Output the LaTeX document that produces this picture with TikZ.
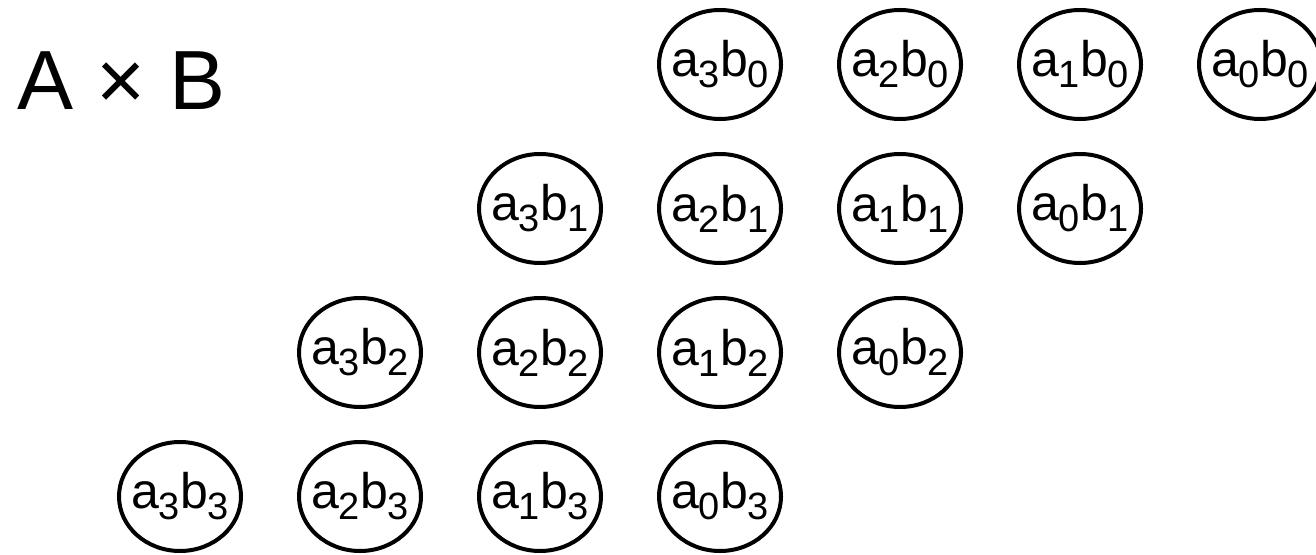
\documentclass[tikz,border=0pt]{standalone}
\usepackage{fontspec}
\setmainfont{Liberation Sans}
\usetikzlibrary{shapes.geometric}
\newcommand{\idx}[1]{\raisebox{-5.5pt}{\fontsize{19}{20}\selectfont #1}}
\tikzset{term/.style={ellipse, draw, line width=2pt, minimum width=61pt, minimum height=54.5pt,
    inner xsep=-5pt, inner ysep=0pt, font=\fontsize{25}{30}\selectfont}}

\begin{document}
\begin{tikzpicture}[x=0.5pt, y=-0.5pt]
    \useasboundingbox (0,0) rectangle (1316,555);
    % Title
    \node[anchor=base west, inner sep=0pt, font=\fontsize{42}{50}\selectfont] (title) at (17,110) {A × B};
    % Partial products, each row shifted one column to the left
    \foreach \j in {0,...,3} {
        \foreach \i in {0,...,3} {
            \node[term] (p\i\j) at ({720 - 180*\j + 180*(3-\i)}, {64.5 + 144*\j}) {a\idx{\i}b\idx{\j}};
        }
    }
\end{tikzpicture}
\end{document}
